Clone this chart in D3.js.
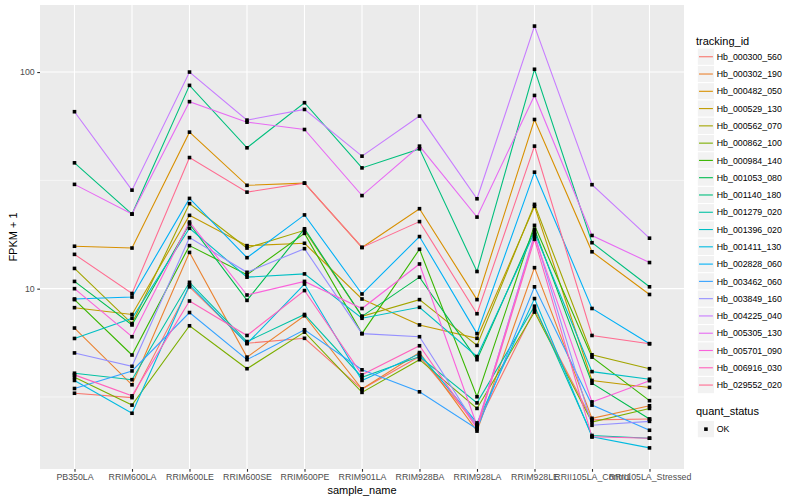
<!DOCTYPE html>
<html>
<head>
<meta charset="utf-8">
<script src="https://cdn.jsdelivr.net/npm/d3@7"></script>
<style>
  body { margin: 0; background: #fff; }
  svg { font-family: "Liberation Sans", Arial, sans-serif; }
</style>
</head>
<body>
<div class="content"></div>
<script>
// sample names along the x axis
var samples = ["PB350LA", "RRIM600LA", "RRIM600LE", "RRIM600SE", "RRIM600PE", "RRIM901LA",
    "RRIM928BA", "RRIM928LA", "RRIM928LE", "RRII105LA_Control", "RRII105LA_Stressed"];

var trackingIds = ["Hb_000300_560", "Hb_000302_190", "Hb_000482_050", "Hb_000529_130", "Hb_000562_070",
    "Hb_000862_100", "Hb_000984_140", "Hb_001053_080", "Hb_001140_180", "Hb_001279_020",
    "Hb_001396_020", "Hb_001411_130", "Hb_002828_060", "Hb_003462_060", "Hb_003849_160",
    "Hb_004225_040", "Hb_005305_130", "Hb_005701_090", "Hb_006916_030", "Hb_029552_020"];

// FPKM + 1, one row per tracking id, one column per sample
var fpkm = [
    [3.29, 3.14, 10.2, 5.6, 5.9, 3.44, 4.86, 2.35, 8.0, 2.48, 2.5],
    [6.58, 3.6, 14.7, 4.83, 7.5, 3.44, 5.07, 2.2, 12.5, 2.52, 2.88],
    [15.7, 15.4, 52.8, 30, 30.7, 15.5, 23.4, 8.9, 60.4, 14.8, 9.4],
    [8.17, 7.6, 21.8, 15.8, 16.2, 8.96, 6.8, 5.9, 24, 3.77, 3.5],
    [12.4, 6.9, 24.7, 15.4, 18.6, 7.45, 8.9, 5.47, 24.5, 4.95, 4.27],
    [3.9, 2.9, 6.74, 4.27, 6.3, 3.32, 4.7, 2.8, 7.8, 2.42, 2.8],
    [8.9, 4.94, 15.8, 11.6, 18.0, 6.2, 15.2, 3.17, 19.6, 4.83, 3.04],
    [10.8, 6.8, 19.9, 8.83, 18.9, 7.45, 11.3, 4.7, 18.8, 3.66, 2.5],
    [38.1, 22.1, 86.8, 44.7, 72.2, 36.1, 44.2, 12.0, 103, 16.3, 10.2],
    [4.07, 3.8, 10.7, 5.7, 7.6, 3.9, 4.86, 2.97, 8.3, 2.1, 2.04],
    [5.89, 7.3, 19.0, 11.3, 11.7, 7.3, 8.2, 4.86, 18.2, 4.14, 3.82],
    [3.77, 2.66, 10.4, 5.57, 10.5, 3.77, 5.0, 2.4, 9.0, 2.07, 1.84],
    [8.96, 9.15, 26.1, 13.9, 21.9, 9.45, 17.4, 6.2, 34.5, 8.1, 5.57],
    [3.46, 4.17, 7.76, 4.7, 6.46, 4.22, 3.34, 2.25, 10.2, 2.9, 2.22],
    [5.05, 4.38, 17.2, 11.9, 15.3, 6.2, 6.0, 2.3, 17.8, 2.34, 2.44],
    [65.6, 28.5, 100, 60, 67.2, 40.9, 62.6, 26, 163, 30.2, 17.1],
    [30.3, 22.1, 73, 58.7, 54.3, 26.9, 45.5, 21.4, 78, 17.6, 13.2],
    [10.0, 6.0, 20.3, 9.35, 10.8, 8.1, 13.0, 2.33, 17.4, 3.0, 3.76],
    [4.0, 3.2, 8.77, 6.08, 9.8, 4.0, 5.45, 2.27, 16.9, 2.07, 2.04],
    [14.4, 9.5, 40.3, 27.9, 30.7, 15.5, 20.4, 7.66, 45.5, 6.08, 5.57]
];

var yTicks = [10, 100];
var yMinor = [Math.pow(10, 0.5), Math.pow(10, 1.5), Math.pow(10, 2.5)];

// ggplot default hue palette for 20 levels
var palette = ["#F8766D", "#EA8331", "#D89000", "#C09B00", "#A3A500", "#7CAE00", "#39B600", "#00BB4E",
    "#00BF7D", "#00C1A3", "#00BFC4", "#00BAE0", "#00B0F6", "#35A2FF", "#9590FF", "#C77CFF",
    "#E76BF3", "#FA62DB", "#FF62BC", "#FF6C91"];

var W = 800, H = 500;
var panel = {left: 40, right: 684, top: 5, bottom: 469};

var svg = d3.select('.content').append('svg')
    .attr('width', W)
    .attr('height', H);

var x = d3.scalePoint()
    .domain(samples)
    .range([panel.left, panel.right])
    .padding(0.6);

var all = d3.merge(fpkm);
var lo = Math.log10(d3.min(all)), hi = Math.log10(d3.max(all));
var pad = (hi - lo) * 0.05;
var y = d3.scaleLog()
    .domain([Math.pow(10, lo - pad), Math.pow(10, hi + pad)])
    .range([panel.bottom, panel.top]);

var color = d3.scaleOrdinal().domain(trackingIds).range(palette);

// panel background and grid
svg.append('rect')
    .attr('x', panel.left)
    .attr('y', panel.top)
    .attr('width', panel.right - panel.left)
    .attr('height', panel.bottom - panel.top)
    .attr('fill', '#EBEBEB');

var yd = y.domain();
svg.selectAll('.minor')
    .data(yMinor.filter(function(d) { return d > yd[0] && d < yd[1]; }))
    .enter().append('line')
    .attr('x1', panel.left).attr('x2', panel.right)
    .attr('y1', function(d) { return y(d); })
    .attr('y2', function(d) { return y(d); })
    .attr('stroke', '#fff').attr('stroke-width', 0.55);

svg.selectAll('.major')
    .data(yTicks)
    .enter().append('line')
    .attr('x1', panel.left).attr('x2', panel.right)
    .attr('y1', function(d) { return y(d); })
    .attr('y2', function(d) { return y(d); })
    .attr('stroke', '#fff').attr('stroke-width', 1.1);

svg.selectAll('.vgrid')
    .data(samples)
    .enter().append('line')
    .attr('x1', function(d) { return x(d); })
    .attr('x2', function(d) { return x(d); })
    .attr('y1', panel.top).attr('y2', panel.bottom)
    .attr('stroke', '#fff').attr('stroke-width', 1.1);

// one line per tracking id
var line = d3.line()
    .x(function(d, i) { return x(samples[i]); })
    .y(function(d) { return y(d); });

svg.append('g')
    .selectAll('path')
    .data(fpkm)
    .enter().append('path')
    .attr('d', line)
    .attr('fill', 'none')
    .attr('stroke', function(d, i) { return color(trackingIds[i]); })
    .attr('stroke-width', 1.1);

// points
var pts = [];
fpkm.forEach(function(row) {
    row.forEach(function(v, j) { pts.push({s: samples[j], v: v}); });
});
var ps = 3.6;
svg.append('g')
    .selectAll('rect')
    .data(pts)
    .enter().append('rect')
    .attr('x', function(d) { return x(d.s) - ps / 2; })
    .attr('y', function(d) { return y(d.v) - ps / 2; })
    .attr('width', ps).attr('height', ps)
    .attr('fill', '#000');

// axes
var xAxis = svg.append('g')
    .attr('transform', 'translate(0,' + panel.bottom + ')')
    .call(d3.axisBottom(x).tickSize(2.75).tickPadding(2.5));
var yAxis = svg.append('g')
    .attr('transform', 'translate(' + panel.left + ',0)')
    .call(d3.axisLeft(y).tickValues(yTicks).tickFormat(d3.format('d')).tickSize(2.75).tickPadding(2.5));

[xAxis, yAxis].forEach(function(a) {
    a.select('.domain').remove();
    a.selectAll('.tick line').attr('stroke', '#333333').attr('stroke-width', 1.1);
    a.selectAll('.tick text')
        .attr('fill', '#4D4D4D')
        .style('font-size', '8.8px')
        .style('font-family', '"Liberation Sans", Arial, sans-serif');
});

svg.append('text')
    .attr('x', (panel.left + panel.right) / 2)
    .attr('y', 494)
    .attr('text-anchor', 'middle')
    .style('font-size', '11px')
    .text('sample_name');

svg.append('text')
    .attr('transform', 'translate(17,' + (panel.top + panel.bottom) / 2 + ') rotate(-90)')
    .attr('text-anchor', 'middle')
    .style('font-size', '11px')
    .text('FPKM + 1');

// legend: tracking_id
var keyX = 697.3, keyY = 48.1, keyS = 17.28;
var legend = svg.append('g');
legend.append('text')
    .attr('x', 696).attr('y', 44.5)
    .style('font-size', '11px')
    .text('tracking_id');

var items = legend.selectAll('.item')
    .data(trackingIds)
    .enter().append('g')
    .attr('transform', function(d, i) { return 'translate(' + keyX + ',' + (keyY + i * keyS) + ')'; });

items.append('rect')
    .attr('width', keyS).attr('height', keyS)
    .attr('fill', '#F2F2F2').attr('stroke', '#fff').attr('stroke-width', 1);
items.append('line')
    .attr('x1', 1.7).attr('x2', keyS - 1.7)
    .attr('y1', keyS / 2).attr('y2', keyS / 2)
    .attr('stroke', function(d) { return color(d); })
    .attr('stroke-width', 1.1);
items.append('text')
    .attr('x', keyS + 2.2)
    .attr('y', keyS / 2 + 3.2)
    .style('font-size', '8.8px')
    .text(function(d) { return d; });

// legend: quant_status
var q = svg.append('g');
var qY = 420.5;
q.append('text')
    .attr('x', 696).attr('y', 414.5)
    .style('font-size', '11px')
    .text('quant_status');
q.append('rect')
    .attr('x', keyX).attr('y', qY)
    .attr('width', keyS).attr('height', keyS)
    .attr('fill', '#F2F2F2').attr('stroke', '#fff');
q.append('rect')
    .attr('x', keyX + keyS / 2 - ps / 2).attr('y', qY + keyS / 2 - ps / 2)
    .attr('width', ps).attr('height', ps)
    .attr('fill', '#000');
q.append('text')
    .attr('x', keyX + keyS + 2.2).attr('y', qY + keyS / 2 + 3.2)
    .style('font-size', '8.8px')
    .text('OK');
</script>
</body>
</html>
